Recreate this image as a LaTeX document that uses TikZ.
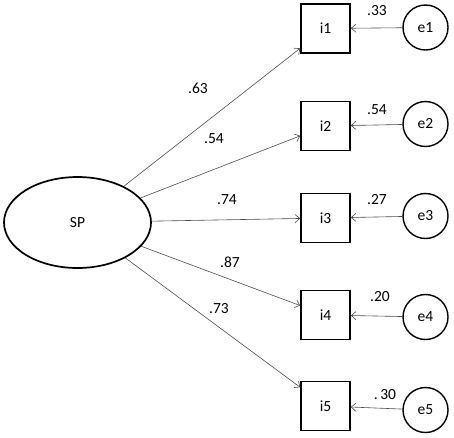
\documentclass[tikz,border=0pt]{standalone}
\usepackage{fontspec}
\setmainfont{Carlito}
\usetikzlibrary{shapes.geometric, arrows.meta, positioning}

\begin{document}
\begin{tikzpicture}[x=1pt, y=-1pt, font=\fontsize{15.5}{17}\selectfont, >={Straight Barb[length=4.5pt,width=8pt]},
	item/.style={rectangle,draw,line width=1.7pt,minimum size=49pt,inner sep=0pt},
	err/.style={circle,draw,line width=1.4pt,minimum size=45pt,inner sep=0pt},
	load/.style={->,draw=black!70,line width=0.6pt}]
	\useasboundingbox (0,0) rectangle (454,437);
	\node (SP) [ellipse,draw,line width=1.7pt,minimum width=147pt,minimum height=91pt] at (77.5,222.5) {SP};
	\node (i1) [item] at (325.5,28.5) {i1};
	\node (i2) [item] at (325.5,126) {i2};
	\node (i3) [item] at (325.5,218) {i3};
	\node (i4) [item] at (325.5,315) {i4};
	\node (i5) [item] at (325.5,406) {i5};
	\node (e1) [err] at (425.5,27.5) {e1};
	\node (e2) [err] at (425.5,124) {e2};
	\node (e3) [err] at (425.5,216) {e3};
	\node (e4) [err] at (425.5,317) {e4};
	\node (e5) [err] at (425.5,410) {e5};
	\foreach \i in {1,...,5} {\draw[load] (SP) -- (i\i); \draw[load] (e\i) -- (i\i);}
	\node (l1) at (198,88) {.63};
	\node (l2) at (214,139) {.54};
	\node (l3) at (227,200) {.74};
	\node (l4) at (230,262) {.87};
	\node (l5) at (219,309) {.73};
	\node (r1) at (377,11) {.33};
	\node (r2) at (377,110) {.54};
	\node (r3) at (377,200) {.27};
	\node (r4) at (380,297) {.20};
	\node (r5) at (385,395) {.\,30};
\end{tikzpicture}
\end{document}
